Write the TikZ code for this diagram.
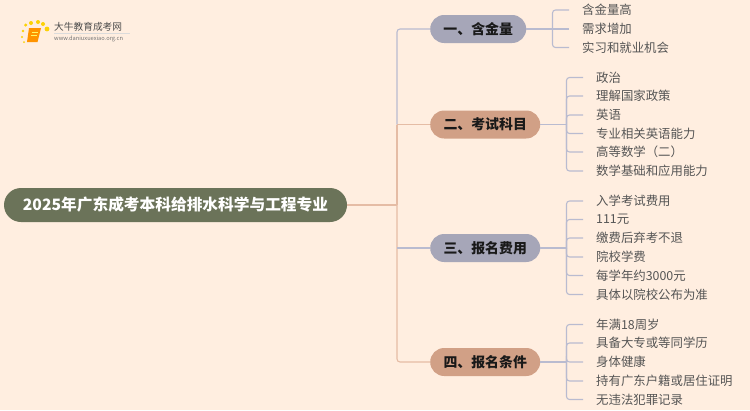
\documentclass[tikz,border=0pt]{standalone}
\usepackage{fontspec}
\setmainfont{Noto Sans CJK SC}
\usepackage{xcolor}
\usetikzlibrary{positioning}
\definecolor{paper}{HTML}{FFEEE0}
\definecolor{moss}{HTML}{6B7359}
\definecolor{slate}{HTML}{A6A6B8}
\definecolor{clay}{HTML}{D1A086}
\definecolor{slatewire}{HTML}{B9BBD0}
\definecolor{claywire}{HTML}{E5BCA5}
\definecolor{ink}{HTML}{555555}
\tikzset{
  rootnode/.style={draw=none,fill=moss,rounded corners=17pt,minimum width=343pt,minimum height=34pt,inner sep=0pt,text=white,font=\fontsize{15.7}{17}\selectfont\bfseries},
  topic/.style={draw=none,rounded corners=14pt,minimum height=28pt,inner sep=0pt,anchor=west,text=black!90,font=\fontsize{13.9}{15}\selectfont\bfseries},
  leaf/.style={anchor=west,inner xsep=13pt,inner ysep=0pt,text=ink,font=\fontsize{12.4}{14}\selectfont},
  swire/.style={draw=slatewire,line width=1.1pt,rounded corners=3pt},
  cwire/.style={draw=claywire,line width=1.1pt,rounded corners=3pt}
}
\newcommand{\leaf}[4]{\node[leaf] (#1) at (#2,#3) {#4};}
\begin{document}
\begin{tikzpicture}[x=1pt,y=-1pt]
\fill[paper] (0,0) rectangle (750,410);
\useasboundingbox (0,0) rectangle (750,410);
% logo
\foreach \px/\py/\pr in {25.7/25/1.7,31/23/2,38/22/2,43/24/2,47/29/2.4,23/31/1.4,22/37/1.2,24/42/1}
  \fill[yellow!70!orange] (\px,\py) circle (\pr);
\fill[orange!85!yellow] (29,28) -- (41,28) -- (37.5,42) -- (27,42) -- cycle;
\draw[yellow!60,line width=0.7pt] (31.5,32) -- (37.5,32) (30.5,35) -- (36.5,35);
\node[anchor=west,inner sep=0pt,text=black!70,font=\fontsize{9.7}{11}\selectfont] (brand) at (54,27) {大牛教育成考网};
\node[anchor=west,inner sep=0pt,text=black!55,font=\fontsize{5.7}{7}\selectfont] (site) at (54,38.5) {www.daniuxuexiao.org.cn};
\draw[black!14,line width=0.5pt] (54,33.5) -- (130,33.5);
% root and topics
\node[rootnode] (root) at (175.5,205) {2025年广东成考本科给排水科学与工程专业};
\node[topic,fill=slate,minimum width=96pt] (quality) at (430,29) {一、含金量};
\node[topic,fill=clay,minimum width=110pt] (subjects) at (430,124.5) {二、考试科目};
\node[topic,fill=slate,minimum width=110pt] (fees) at (430,248) {三、报名费用};
\node[topic,fill=clay,minimum width=110pt] (terms) at (430,362) {四、报名条件};
\coordinate (trunk) at (397,205);
% leaves
\leaf{qa}{569}{10}{含金量高}
\leaf{qb}{569}{29}{需求增加}
\leaf{qc}{569}{47.5}{实习和就业机会}
\leaf{sa}{583}{77.5}{政治}
\leaf{sb}{583}{96}{理解国家政策}
\leaf{sc}{583}{115}{英语}
\leaf{sd}{583}{133.5}{专业相关英语能力}
\leaf{se}{583}{152}{高等数学（二）}
\leaf{sf}{583}{171}{数学基础和应用能力}
\leaf{fa}{583}{201}{入学考试费用}
\leaf{fb}{583}{219.5}{111元}
\leaf{fc}{583}{238}{缴费后弃考不退}
\leaf{fd}{583}{257}{院校学费}
\leaf{fe}{583}{275.5}{每学年约3000元}
\leaf{ff}{583}{294.5}{具体以院校公布为准}
\leaf{ta}{583}{324.5}{年满18周岁}
\leaf{tb}{583}{343}{具备大专或等同学历}
\leaf{tc}{583}{362}{身体健康}
\leaf{td}{583}{381}{持有广东户籍或居住证明}
\leaf{te}{583}{399.5}{无违法犯罪记录}
% trunk
\draw[cwire] (root.east) -- (trunk);
\draw[swire] (subjects.west -| trunk) |- (quality.west);
\draw[cwire] (subjects.west -| trunk) -- (trunk);
\draw[cwire] (trunk) |- (terms.west);
\draw[cwire] (subjects.west -| trunk) -- (subjects.west);
\draw[swire] (fees.west -| trunk) -- (fees.west);
% branches
\coordinate (qfork) at (552.5,29);
\coordinate (sfork) at (566.5,124.5);
\coordinate (ffork) at (566.5,248);
\coordinate (tfork) at (566.5,362);
\draw[swire] (quality.east) -- (qb.west);
\foreach \n in {qa,qc} \draw[swire] (qfork) |- (\n.west);
\draw[swire] (subjects.east) -- (sfork);
\foreach \n in {sa,sb,sc,sd,se,sf} \draw[swire] (sfork) |- (\n.west);
\draw[swire] (fees.east) -- (ffork);
\foreach \n in {fa,fb,fc,fd,fe,ff} \draw[swire] (ffork) |- (\n.west);
\draw[swire] (terms.east) -- (tfork);
\foreach \n in {ta,tb,tc,td,te} \draw[swire] (tfork) |- (\n.west);
\end{tikzpicture}
\end{document}
